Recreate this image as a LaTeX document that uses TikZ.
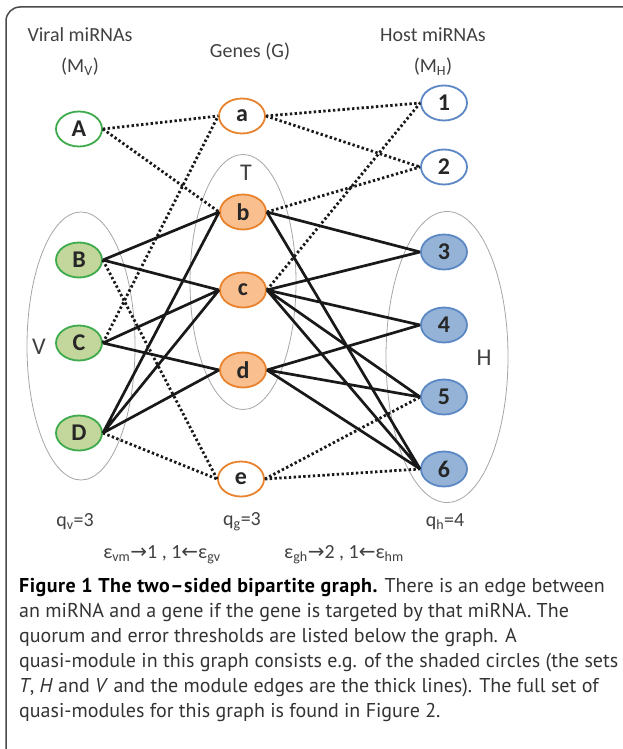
\documentclass[tikz,border=0pt]{standalone}
\usepackage{fontspec}
\setmainfont{Carlito}
\newfontfamily\capfont{PT Sans}
\newfontfamily\arrowfont{DejaVu Sans}
\usetikzlibrary{shapes.geometric}
\definecolor{viralgreen}{HTML}{3DAA4B}
\definecolor{viralfill}{HTML}{C3D69B}
\definecolor{geneorange}{HTML}{E9822D}
\definecolor{genefill}{HTML}{F9BF8F}
\definecolor{hostblue}{HTML}{5B87C5}
\definecolor{hostfill}{HTML}{95B3D7}
\definecolor{setgray}{HTML}{A6A6A6}
\definecolor{textgray}{HTML}{404040}
\definecolor{framegray}{HTML}{4A4A4A}

\begin{document}
\begin{tikzpicture}[
  x=1pt,y=-1pt,
  mirna/.style={ellipse,draw,line width=1.8pt,minimum width=46pt,minimum height=35pt,inner sep=0pt,
    font=\bfseries\fontsize{24}{24}\selectfont,text=black!85},
  viral/.style={mirna,draw=viralgreen,fill=white},
  viralin/.style={viral,fill=viralfill},
  gene/.style={mirna,draw=geneorange,fill=white},
  genein/.style={gene,fill=genefill},
  host/.style={mirna,draw=hostblue,fill=white},
  hostin/.style={host,fill=hostfill},
  set/.style={ellipse,draw=setgray,line width=0.8pt,inner sep=0pt},
  heading/.style={font=\fontsize{20}{20}\selectfont,text=textgray},
  module/.style={line width=2.7pt,black!90},
  loose/.style={line width=2.8pt,black!90,dash pattern=on 2.4pt off 2.4pt}
]
  \useasboundingbox (0,0) rectangle (623,749);
  \draw[framegray,line width=1.5pt,rounded corners=14pt] (6,749) -- (6,7) -- (623,7);

  % the sets V, T and H
  \node[set,minimum width=108pt,minimum height=268pt] (setV) at (81,346) {};
  \node[set,minimum width=106pt,minimum height=255pt] (setT) at (243,282) {};
  \node[set,minimum width=122pt,minimum height=291pt] (setH) at (447,357) {};
  \node[heading,font=\fontsize{24}{24}\selectfont] (labV) at (39,347) {V};
  \node[heading,font=\fontsize{24}{24}\selectfont] (labT) at (246,173) {T};
  \node[heading,font=\fontsize{24}{24}\selectfont] (labH) at (484,358) {H};

  % column headings
  \node[heading] (headV) at (80,35) {Viral miRNAs};
  \node[heading] (subV) at (80,67) {(M\textsubscript{V})};
  \node[heading] (headG) at (250,52) {Genes (G)};
  \node[heading] (headH) at (433,35) {Host miRNAs};
  \node[heading] (subH) at (433,67) {(M\textsubscript{H})};

  % viral miRNAs
  \node[viral] (A) at (79,129) {A};
  \node[viralin] (B) at (79,260) {B};
  \node[viralin] (C) at (79,343) {C};
  \node[viralin] (D) at (79,433) {D};
  % genes
  \node[gene] (a) at (242,116) {a};
  \node[genein] (b) at (243,212) {b};
  \node[genein] (c) at (243,290) {c};
  \node[genein] (d) at (243,370) {d};
  \node[gene] (e) at (241,479) {e};
  % host miRNAs
  \node[host] (h1) at (444,103) {1};
  \node[host] (h2) at (444,167) {2};
  \node[hostin] (h3) at (444,252) {3};
  \node[hostin] (h4) at (444,325) {4};
  \node[hostin] (h5) at (444,397) {5};
  \node[hostin] (h6) at (444,469) {6};

  % edges outside the module
  \draw[loose] (A.east) -- (a.west) (A.east) -- (b.west)
    (B.east) -- (e.west) (C.east) -- (a.west) (D.east) -- (e.west);
  \draw[loose] (a.east) -- (h1.west) (a.east) -- (h2.west) (b.east) -- (h2.west)
    (c.east) -- (h1.west) (e.east) -- (h5.west) (e.east) -- (h6.west);

  % module edges
  \draw[module] (B.east) -- (b.west) (B.east) -- (c.west)
    (C.east) -- (c.west) (C.east) -- (d.west)
    (D.east) -- (b.west) (D.east) -- (c.west) (D.east) -- (d.west);
  \draw[module] (b.east) -- (h3.west) (b.east) -- (h6.west)
    (c.east) -- (h3.west) (c.east) -- (h4.west) (c.east) -- (h5.west) (c.east) -- (h6.west)
    (d.east) -- (h4.west) (d.east) -- (h5.west) (d.east) -- (h6.west);

  % quorum and error thresholds
  \node[heading] (qv) at (75,522) {q\textsubscript{v}=3};
  \node[heading] (qg) at (242,522) {q\textsubscript{g}=3};
  \node[heading] (qh) at (445,522) {q\textsubscript{h}=4};
  \node[heading] (errvg) at (162,555) {ε\textsubscript{vm}{\arrowfont →}1 , 1{\arrowfont ←}ε\textsubscript{gv}};
  \node[heading] (errgh) at (344,555) {ε\textsubscript{gh}{\arrowfont →}2 , 1{\arrowfont ←}ε\textsubscript{hm}};

  \node[anchor=north west,align=left,inner sep=0pt,text=black!80,
    font=\capfont\fontsize{20}{25}\selectfont] (caption) at (19,578)
    {{\addfontfeature{LetterSpace=2.5}\bfseries\color{black}Figure 1 The two–sided bipartite graph.} There is an edge between\\
     an miRNA and a gene if the gene is targeted by that miRNA. The\\
     quorum and error thresholds are listed below the graph. A\\
     quasi-module in this graph consists e.g. of the shaded circles (the sets\\
     \textit{T}, \textit{H} and \textit{V} and the module edges are the thick lines). The full set of\\
     quasi-modules for this graph is found in Figure 2.};
\end{tikzpicture}
\end{document}
